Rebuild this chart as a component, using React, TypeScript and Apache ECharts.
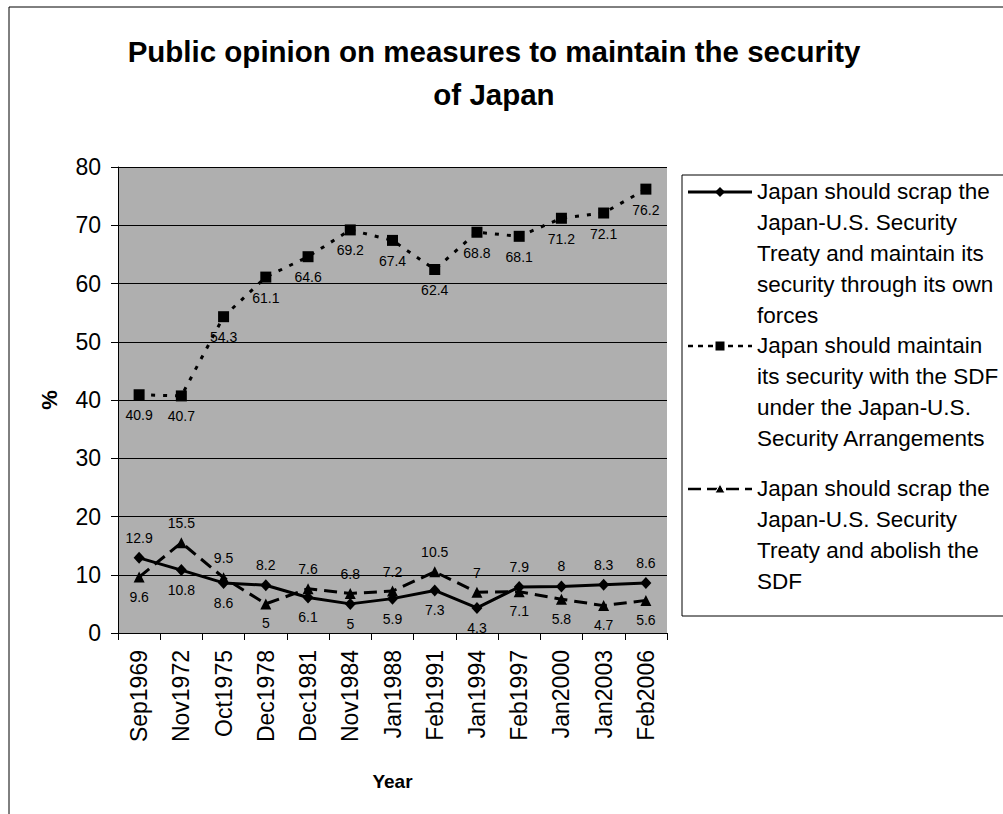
import React, { useEffect, useRef } from "react";
import * as echarts from "echarts";

// Survey dates (x axis categories)
const categories = [
  "Sep1969", "Nov1972", "Oct1975", "Dec1978", "Dec1981", "Nov1984", "Jan1988",
  "Feb1991", "Jan1994", "Feb1997", "Jan2000", "Jan2003", "Feb2006",
];

// Share of respondents (%) for each option
const scrapOwnForces = [12.9, 10.8, 8.6, 8.2, 6.1, 5, 5.9, 7.3, 4.3, 7.9, 8, 8.3, 8.6];
const maintainWithSdf = [40.9, 40.7, 54.3, 61.1, 64.6, 69.2, 67.4, 62.4, 68.8, 68.1, 71.2, 72.1, 76.2];
const scrapAbolishSdf = [9.6, 15.5, 9.5, 5, 7.6, 6.8, 7.2, 10.5, 7, 7.1, 5.8, 4.7, 5.6];

const seriesNames = [
  "Japan should scrap the Japan-U.S. Security Treaty and maintain its security through its own forces",
  "Japan should maintain its security with the SDF under the Japan-U.S. Security Arrangements",
  "Japan should scrap the Japan-U.S. Security Treaty and abolish the SDF",
];

// Wrapped legend text, one entry per series
const legendLines = [
  ["Japan should scrap the", "Japan-U.S. Security", "Treaty and maintain its", "security through its own", "forces"],
  ["Japan should maintain", "its security with the SDF", "under the Japan-U.S.", "Security Arrangements"],
  ["Japan should scrap the", "Japan-U.S. Security", "Treaty and abolish the", "SDF"],
];

const yTicks = { min: 0, max: 80, interval: 10 };

// Which side of each point its value label sits on
const ownForcesLabelSide = ["top", "bottom", "bottom", "top", "bottom", "bottom", "bottom", "bottom", "bottom", "top", "top", "top", "top"];
const abolishLabelSide = ["bottom", "top", "top", "bottom", "top", "top", "top", "top", "top", "bottom", "bottom", "bottom", "bottom"];

const FONT = "'Liberation Sans', Arial, Helvetica, sans-serif";

function withLabels(values: number[], sides: string[]) {
  return values.map((v, i) => ({ value: v, label: { position: sides[i] } }));
}

function legendGraphic() {
  const left = 682;
  const top = 175;
  const lineH = 30.8;
  const firstLineY = [192, 346, 489];
  const els: any[] = [
    {
      type: "rect",
      shape: { x: left, y: top, width: 340, height: 441 },
      style: { fill: "#ffffff", stroke: "#000", lineWidth: 1 },
      z: 10,
    },
  ];
  const dashes = [[], [5, 5], [13, 6]];
  legendLines.forEach((lines, i) => {
    const cy = firstLineY[i];
    els.push({
      type: "line",
      shape: { x1: 688, y1: cy, x2: 752, y2: cy },
      style: { stroke: "#000", lineWidth: i === 0 ? 3 : 2.5, lineDash: dashes[i] },
      z: 11,
    });
    if (i === 0) {
      els.push({
        type: "polygon",
        shape: { points: [[720, cy - 5], [725, cy], [720, cy + 5], [715, cy]] },
        style: { fill: "#000" },
        z: 12,
      });
    } else if (i === 1) {
      els.push({
        type: "rect",
        shape: { x: 715, y: cy - 5, width: 10, height: 10 },
        style: { fill: "#000", stroke: "#fff", lineWidth: 1 },
        z: 12,
      });
    } else {
      els.push({
        type: "polygon",
        shape: { points: [[720, cy - 5], [725, cy + 4], [715, cy + 4]] },
        style: { fill: "#000", stroke: "#fff", lineWidth: 1 },
        z: 12,
      });
    }
    els.push({
      type: "text",
      x: 757,
      y: cy - lineH / 2,
      z: 12,
      style: {
        text: lines.join("\n"),
        font: `22.5px ${FONT}`,
        fill: "#000",
        lineHeight: lineH,
        verticalAlign: "top",
        align: "left",
      },
    });
  });
  return els;
}

export default function App() {
  const ref = useRef<HTMLDivElement>(null);

  useEffect(() => {
    document.body.style.margin = "0";
    const chart = echarts.init(ref.current!, undefined, { renderer: "svg" });
    const labelStyle = {
      show: true,
      color: "#000",
      fontFamily: FONT,
      fontSize: 14,
      distance: 7,
    };
    chart.setOption({
      animation: false,
      backgroundColor: "#ffffff",
      title: {
        text: "Public opinion on measures to maintain the security\nof Japan",
        left: 489,
        top: 25,
        textAlign: "center",
        textStyle: {
          fontFamily: FONT,
          fontSize: 29.5,
          fontWeight: "bold",
          color: "#000",
          lineHeight: 43,
        },
      },
      grid: {
        left: 118,
        right: 336,
        top: 167,
        bottom: 181,
        show: true,
        backgroundColor: "#afafaf",
        borderWidth: 0,
      },
      xAxis: {
        type: "category",
        data: categories,
        boundaryGap: true,
        name: "Year",
        nameLocation: "middle",
        nameGap: 139,
        nameTextStyle: { fontFamily: FONT, fontSize: 19, fontWeight: "bold", color: "#000" },
        axisLine: { show: true, lineStyle: { color: "#000", width: 1 } },
        axisTick: { show: true, length: 7, alignWithLabel: false, lineStyle: { color: "#000" } },
        axisLabel: {
          rotate: 90,
          margin: 17,
          interval: 0,
          fontFamily: FONT,
          fontSize: 23,
          color: "#000",
        },
        splitLine: { show: false },
      },
      yAxis: {
        type: "value",
        min: yTicks.min,
        max: yTicks.max,
        interval: yTicks.interval,
        name: "%",
        nameLocation: "middle",
        nameRotate: 90,
        nameGap: 58,
        nameTextStyle: { fontFamily: FONT, fontSize: 22, fontWeight: "bold", color: "#000" },
        axisLine: { show: true, lineStyle: { color: "#000", width: 1 } },
        axisTick: { show: true, length: 7, lineStyle: { color: "#000" } },
        axisLabel: { margin: 17, fontFamily: FONT, fontSize: 23, color: "#000" },
        splitLine: { show: true, lineStyle: { color: "#000", width: 1 } },
      },
      series: [
        {
          name: seriesNames[0],
          type: "line",
          data: withLabels(scrapOwnForces, ownForcesLabelSide),
          symbol: "diamond",
          symbolSize: [11, 12],
          lineStyle: { color: "#000", width: 3, type: "solid" },
          itemStyle: { color: "#000" },
          label: labelStyle,
          z: 4,
        },
        {
          name: seriesNames[1],
          type: "line",
          data: maintainWithSdf,
          symbol: "rect",
          symbolSize: 11,
          lineStyle: { color: "#000", width: 3, type: [4, 8] },
          itemStyle: { color: "#000" },
          label: { ...labelStyle, position: "bottom", distance: 8 },
          z: 3,
        },
        {
          name: seriesNames[2],
          type: "line",
          data: withLabels(scrapAbolishSdf, abolishLabelSide),
          symbol: "triangle",
          symbolSize: 11,
          lineStyle: { color: "#000", width: 3, type: [13, 7] },
          itemStyle: { color: "#000" },
          label: labelStyle,
          z: 3,
        },
      ],
      graphic: [
        {
          type: "rect",
          shape: { x: 9, y: 7, width: 1100, height: 900 },
          style: { fill: "none", stroke: "#000", lineWidth: 1 },
          silent: true,
          z: 1,
        },
        ...legendGraphic(),
      ],
    });
    return () => chart.dispose();
  }, []);

  return <div ref={ref} style={{ width: 1003, height: 814 }} />;
}
